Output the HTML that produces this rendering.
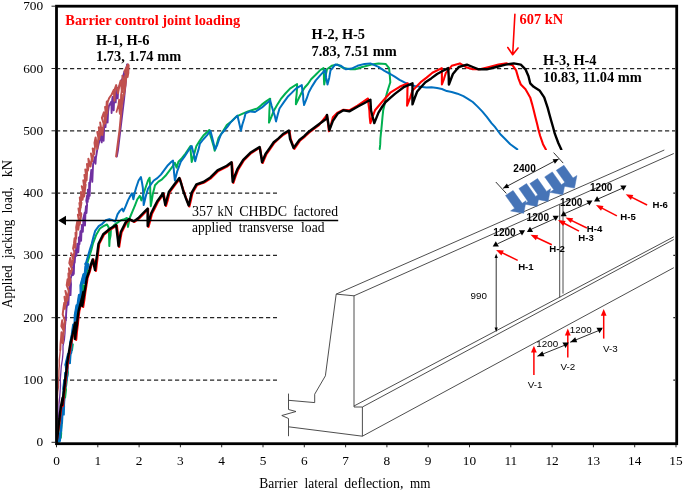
<!DOCTYPE html>
<html><head><meta charset="utf-8"><title>Barrier control joint loading</title>
<style>
html,body{margin:0;padding:0;background:#fff}
svg{display:block}
text{font-family:"Liberation Serif",serif;fill:#000}
.tk{font-size:13.33px}
.b{font-weight:bold;font-size:14.4px}
.r{font-size:14.2px}
.axx{font-size:14.4px}
.ay{font-size:13.9px}
.ax{font-size:13.33px}
.s{font-family:"Liberation Sans",sans-serif;font-size:9.8px}
.sb{font-family:"Liberation Sans",sans-serif;font-size:10.1px;font-weight:bold}
.sh{font-family:"Liberation Sans",sans-serif;font-size:9.6px;font-weight:bold}
</style></head><body>
<svg width="685" height="491" viewBox="0 0 685 491">
<rect width="685" height="491" fill="#fff"/>
<line x1="58" y1="380.0" x2="675" y2="380.0" stroke="#262626" stroke-width="1.25" stroke-dasharray="4.2 2.8" stroke-dashoffset="2"/>
<line x1="58" y1="317.7" x2="675" y2="317.7" stroke="#262626" stroke-width="1.25" stroke-dasharray="4.2 2.8" stroke-dashoffset="2"/>
<line x1="58" y1="255.4" x2="675" y2="255.4" stroke="#262626" stroke-width="1.25" stroke-dasharray="4.2 2.8" stroke-dashoffset="2"/>
<line x1="58" y1="193.1" x2="675" y2="193.1" stroke="#262626" stroke-width="1.25" stroke-dasharray="4.2 2.8" stroke-dashoffset="2"/>
<line x1="58" y1="130.8" x2="675" y2="130.8" stroke="#262626" stroke-width="1.25" stroke-dasharray="4.2 2.8" stroke-dashoffset="2"/>
<line x1="58" y1="68.5" x2="675" y2="68.5" stroke="#262626" stroke-width="1.25" stroke-dasharray="4.2 2.8" stroke-dashoffset="2"/>
<defs><clipPath id="pc"><rect x="57.5" y="7" width="618" height="435.6"/></clipPath></defs>
<g clip-path="url(#pc)">
<polyline points="57.2,442.0 57.6,435.7 58.2,429.5 58.2,423.2 58.6,416.9 59.0,410.6 59.0,404.4 59.6,398.1 60.1,391.8 60.5,385.5 60.3,379.3 60.8,373.0 61.3,366.2 62.4,359.5 63.0,352.8 63.0,346.0 64.4,339.5 65.0,333.0 65.3,326.5 65.9,320.0" fill="none" stroke="#7030A0" stroke-width="1.3" stroke-linejoin="round" stroke-linecap="round"/>
<polyline points="65.9,320.0 66.1,314.2 66.5,308.4 67.5,302.6 67.6,296.8 68.4,304.7 68.8,295.9 68.9,290.9 69.8,285.1 70.5,295.1 71.0,284.2 70.5,279.2 72.0,273.4 72.6,267.3 72.9,275.1 73.4,265.0 73.4,261.1 73.8,273.9 74.2,262.0 74.3,255.0 74.7,262.7 75.3,254.1 76.1,249.3 76.4,255.9 76.9,249.6 77.3,243.7 78.3,252.4 78.9,243.9 78.8,237.5 79.5,244.3 79.9,237.8 80.4,231.2 81.1,240.8 81.5,231.3 81.9,225.0 82.8,231.9 83.3,223.2 83.2,218.7 84.8,212.5 85.0,225.5 85.5,211.3 86.0,206.2 86.5,213.0 87.1,204.4 86.3,200.7 87.1,195.3 87.7,201.9 88.1,194.8 87.8,189.8 88.6,198.8 89.1,190.7 89.2,182.8 89.7,195.7 90.1,180.8 90.7,175.8 91.3,169.9 92.3,181.8 92.9,168.1 93.1,164.0 95.1,157.0 95.5,163.8 95.9,157.9 97.2,150.0 99.0,142.5 101.1,135.0 101.7,142.4 102.2,132.7 102.8,128.0 103.6,140.8 104.2,126.5 105.3,121.0 105.5,127.1 106.0,120.1 106.6,113.5 107.6,122.5 108.1,111.5 108.9,106.0 111.4,101.5 111.6,113.0 112.2,99.5 112.6,97.0 113.7,110.3 114.2,97.9 114.6,92.5 115.7,102.4 116.2,91.1 117.4,88.0 117.7,98.4 118.2,88.7 121.2,82.0 123.0,76.8 124.4,71.5 125.2,84.7 125.8,70.5 127.2,64.5 127.0,64.5 126.0,80.0 124.0,100.0 121.0,125.0 118.0,150.0 116.8,156.5" fill="none" stroke="#7030A0" stroke-width="1.9" stroke-linejoin="round" stroke-linecap="round"/>
<polyline points="116.5,112.0 118.7,104.0 119.8,113.8 120.6,105.8 118.5,104.0 119.1,99.5 119.9,110.2 120.9,98.8 121.0,95.0 121.7,103.3 122.0,94.7 121.0,95.0 121.9,90.0 123.9,85.0 124.2,94.8 124.9,84.4 123.5,85.0 123.8,80.5 124.2,86.8 125.2,82.1 125.2,76.0 125.5,76.0 126.6,71.0 127.7,77.2 128.5,72.9 128.1,66.0 128.4,73.2 128.8,65.2 127.5,66.0" fill="none" stroke="#C0504D" stroke-width="1.7" stroke-linejoin="round" stroke-linecap="round"/>
<polyline points="56.0,442.0 56.4,436.4 56.4,430.8 56.8,425.1 57.0,419.5 56.7,413.9 56.9,408.2 57.7,402.6 57.4,397.0 57.7,391.8 58.5,386.6 58.4,381.3 58.9,376.1 58.9,370.9 59.3,365.7 59.2,360.4 59.8,355.2 60.3,350.0" fill="none" stroke="#C0504D" stroke-width="1.4" stroke-linejoin="round" stroke-linecap="round"/>
<polyline points="60.3,350.0 60.5,344.1 61.1,338.1 61.5,332.2 62.7,343.2 63.8,330.7 61.4,326.2 62.2,320.3 63.7,332.3 65.0,321.0 62.7,314.4 63.4,308.6 64.3,302.7 64.8,308.8 65.4,303.6 64.5,296.8 65.8,304.2 66.8,295.7 65.4,290.9 67.3,300.6 68.8,290.8 66.7,285.1 67.6,279.2 69.0,285.6 70.4,280.1 68.4,273.4 68.9,284.1 69.5,273.8 68.9,268.3 70.6,273.8 72.1,269.2 69.3,263.1 70.3,258.0 72.0,265.4 73.4,258.6 71.2,253.2 73.1,258.6 74.4,251.9 73.1,248.5 74.0,243.7 74.6,238.2 75.3,248.0 75.7,236.4 75.5,232.8 76.0,239.0 76.5,233.3 76.2,227.3 77.4,221.0 78.3,229.7 79.3,220.8 77.9,214.8 79.7,224.7 81.3,214.0 78.5,208.5 79.5,215.4 80.2,209.4 79.4,203.0 80.5,208.1 81.4,202.5 79.8,197.5 80.7,207.6 81.2,197.2 81.0,192.0 82.5,199.8 83.8,192.1 81.8,186.2 84.1,196.6 85.6,184.6 83.3,180.4 84.3,188.0 85.1,179.0 84.4,174.9 85.5,182.3 86.3,175.1 85.3,169.5 86.6,180.3 87.3,167.7 87.0,164.0 87.9,170.5 88.8,163.9 88.4,158.8 90.5,166.5 91.9,157.8 91.0,153.6 92.2,161.3 93.4,154.2 92.7,148.4 94.0,154.4 95.0,146.6 94.5,142.9 95.6,137.5 97.3,148.9 98.4,137.8 97.3,132.0 99.1,139.3 100.4,130.4 98.8,127.3 100.0,135.7 100.9,128.0 100.2,122.6 102.3,135.1 103.7,123.6 101.9,117.9 103.9,112.4 105.3,123.4 106.7,112.3 105.1,107.0 105.9,114.7 106.6,104.7 106.8,101.5 107.2,113.0 107.6,102.2 109.2,98.0 111.7,94.5 113.8,89.8 114.5,100.8 115.0,88.3 116.2,85.1 118.0,93.4 119.5,84.7 120.7,80.4 122.0,92.3 122.9,80.6 122.4,75.8 124.2,85.0 125.6,73.8 124.5,71.1 128.0,64.5 127.8,64.5 126.5,75.0 125.5,85.0 122.0,104.0 119.6,129.6 116.1,156.5" fill="none" stroke="#C0504D" stroke-width="2.0" stroke-linejoin="round" stroke-linecap="round"/>
<polyline points="58.2,443.0 59.6,433.8 60.8,437.9 61.2,433.2 60.2,424.6 60.6,433.0 61.6,424.6 61.1,415.4 62.1,406.2 63.0,397.0 63.8,405.4 64.3,396.6 62.8,397.0 64.1,388.9 65.1,397.6 66.0,389.6 64.9,380.9 66.1,386.2 66.6,382.2 66.1,372.9 67.1,377.6 67.9,372.4 66.1,364.8 67.3,369.0 67.9,365.4 66.6,364.8 69.0,354.2 69.5,362.8 70.1,355.0 71.4,343.7 72.0,350.4 72.8,344.3 71.6,343.7 72.9,334.3 74.8,325.0 75.9,331.0 76.9,325.5 76.5,315.6 76.9,324.1 77.6,315.6 76.6,315.6 78.4,305.4 78.6,310.4 79.3,306.8 80.6,295.2 80.9,302.7 81.5,296.7 82.8,285.0 83.5,293.2 84.2,285.8 82.4,285.0 85.2,274.5 86.1,280.9 86.9,274.6 87.3,264.0 87.0,264.0 91.2,250.4 92.9,243.7 96.4,234.4 99.9,228.5 103.4,226.2 107.0,224.5 108.6,227.3 109.0,234.0 109.2,240.2 109.3,246.1 109.6,240.6 110.6,235.3 110.9,229.7 114.0,225.0 117.5,222.7 121.0,220.3 124.5,219.1 126.9,218.0 128.0,226.9 129.7,218.0 132.7,210.9 135.1,205.1 137.4,199.2 139.8,195.7 141.4,200.4 143.3,194.5 145.6,187.5 148.0,180.5 149.6,177.7 150.1,184.6 150.3,192.2 150.5,199.0 150.8,206.2 151.8,200.4 152.7,194.5 155.0,185.2 158.5,181.6 162.0,179.3 165.5,175.8 169.1,171.1 172.6,166.4 174.9,162.9 176.6,167.6 178.4,161.7 181.9,158.2 185.5,153.5 190.5,146.0 190.7,151.1 191.2,157.0 191.7,162.0 193.4,156.4 195.0,151.0 196.4,146.0 200.0,140.4 203.4,135.5 209.3,130.0 210.4,135.5 211.9,140.1 213.6,145.9 214.7,150.7 216.6,144.7 218.6,137.8 221.4,133.7 223.9,129.7 226.8,125.0 231.6,121.3 236.2,116.7 242.2,113.9 247.9,111.4 257.3,108.5 261.5,104.9 265.7,101.6 270.2,98.7 269.8,104.8 269.4,110.8 269.2,116.5 269.0,122.6 271.5,116.7 273.7,110.9 277.1,105.0 280.7,99.2 285.4,93.5 290.0,88.6 297.1,84.0 297.0,88.6 296.6,94.5 296.0,99.5 295.9,104.3 298.8,98.3 301.8,92.2 304.7,87.5 307.9,84.0 311.1,79.3 315.7,74.8 320.5,69.9 323.5,68.1 323.9,74.0 323.9,78.9 324.2,84.5 325.1,79.7 325.9,74.6 327.0,69.3 331.7,65.8 337.6,64.6 343.4,68.1 350.4,69.3 355.1,69.3 362.2,67.0 371.5,64.6 378.5,63.4 385.6,63.9 389.1,68.1 389.8,75.5 390.3,82.2 388.3,88.5 386.7,93.9 385.3,99.2 384.4,105.2 383.2,110.3 382.5,116.9 382.0,122.6 381.4,129.0 380.9,133.7 380.4,138.7 380.2,144.4 379.7,149.0" fill="none" stroke="#00B050" stroke-width="2.0" stroke-linejoin="round" stroke-linecap="round"/>
<polyline points="58.7,443.0 59.3,433.8 60.0,441.0 60.4,435.2 60.9,424.6 61.3,431.1 61.6,424.7 61.6,415.4 62.0,423.4 62.5,414.5 63.0,406.2 63.8,414.6 64.1,406.2 63.4,397.0 64.0,405.8 64.4,398.5 63.4,397.0 63.6,388.9 64.6,380.9 65.2,386.6 65.7,380.0 65.6,372.9 66.0,380.8 67.0,374.5 66.1,364.8 67.0,371.7 67.4,365.2 65.8,364.8 68.4,354.2 69.5,362.9 70.1,354.3 70.4,343.7 70.9,352.7 71.3,343.0 70.4,343.7 72.2,334.3 73.5,325.0 74.5,331.7 74.9,325.8 75.2,315.6 75.5,320.5 76.1,317.4 75.1,315.6 76.9,305.4 77.2,310.9 77.6,306.8 79.3,295.2 80.2,302.6 81.1,297.1 80.9,285.0 81.0,285.0 83.8,274.5 84.5,282.9 85.1,274.2 86.1,264.0 87.1,268.3 87.9,264.4 85.7,264.0 89.8,249.8 91.7,243.7 93.4,237.0 95.2,230.9 98.7,226.2 102.3,223.8 105.8,220.3 109.3,219.1 112.8,220.3 115.2,221.5 117.5,214.4 119.8,210.9 122.2,208.6 123.4,211.4 125.7,206.2 128.0,200.4 130.4,195.7 132.0,193.4 133.4,199.2 134.6,193.3 136.2,187.5 138.6,180.5 140.9,177.0 142.0,182.5 142.8,187.5 143.2,193.1 143.4,199.0 143.7,205.1 145.6,196.9 148.0,188.7 150.3,185.2 153.8,180.5 157.3,178.1 160.9,174.6 164.4,169.9 167.9,165.2 171.4,161.7 173.0,160.5 173.7,168.7 174.2,174.2 174.9,180.5 177.3,171.1 178.9,166.8 180.8,161.7 184.3,157.0 187.5,152.0 191.7,146.0 193.0,151.3 194.2,155.9 195.2,161.2 196.7,155.5 198.4,149.9 199.9,143.7 203.6,139.0 206.9,135.3 210.4,130.8 212.0,136.7 213.5,142.9 215.1,149.5 217.3,144.8 219.1,139.2 221.0,134.3 224.3,130.5 227.4,126.8 230.4,122.6 237.4,115.6 238.6,120.6 239.8,125.7 240.9,130.8 242.3,124.8 244.2,118.7 245.6,113.2 250.3,111.4 255.0,112.0 262.0,107.4 265.9,104.0 270.2,100.4 271.6,105.7 273.1,110.8 274.8,115.9 276.0,121.4 277.7,114.7 279.5,108.5 283.7,102.4 287.7,96.8 291.7,92.9 295.9,88.6 301.8,85.1 302.3,90.1 303.1,94.7 303.3,99.8 304.1,105.0 306.6,98.7 308.8,92.2 312.2,86.1 315.8,80.4 320.4,75.1 325.2,69.9 326.1,77.4 327.5,84.5 329.2,77.9 330.5,70.4 335.2,64.6 341.0,65.8 345.8,69.3 351.6,68.6 357.5,65.8 364.5,63.9 370.4,63.4 378.5,66.9 384.5,70.9 390.3,74.0 394.7,76.7 399.6,79.8 404.5,82.4 409.0,84.5 414.8,86.0 420.7,86.8 426.2,87.5 431.5,87.3 437.1,88.0 441.9,89.0 446.8,91.1 451.7,92.0 457.5,93.7 463.4,96.2 467.9,98.8 472.8,102.0 477.6,106.6 482.2,111.4 486.8,116.9 491.5,123.1 494.9,126.9 497.6,130.5 500.9,134.8 505.4,139.2 510.3,144.2 517.3,149.4" fill="none" stroke="#0070C0" stroke-width="2.0" stroke-linejoin="round" stroke-linecap="round"/>
<polyline points="63.6,388.9 64.6,380.9 65.2,386.6 65.7,380.0 65.6,372.9 66.0,380.8 67.0,374.5 66.1,364.8 67.0,371.7 67.4,365.2 65.8,364.8 68.4,354.2 69.5,362.9 70.1,354.3 70.4,343.7 70.9,352.7 71.3,343.0 70.4,343.7 72.2,334.3 73.5,325.0 74.5,331.7 74.9,325.8 75.2,315.6 75.5,320.5 76.1,317.4 75.1,315.6 76.9,305.4 77.2,310.9 77.6,306.8 79.3,295.2 80.2,302.6 81.1,297.1 80.9,285.0 81.0,285.0 83.8,274.5 84.5,282.9 85.1,274.2 86.1,264.0 87.1,268.3 87.9,264.4 85.7,264.0" fill="none" stroke="#0070C0" stroke-width="2.9" stroke-linejoin="round" stroke-linecap="round"/>
<polyline points="56.8,442.0 57.9,433.3 59.2,425.0 60.1,418.4 60.8,412.2 61.6,406.0 63.2,398.0 63.0,406.0 63.6,399.0 64.4,392.0 65.3,385.0 66.0,377.7 66.9,371.2 67.8,364.0 68.8,357.0 70.1,350.8 71.2,343.7 72.8,336.6 74.5,329.3 75.9,322.6 76.2,331.2 76.2,340.0 76.9,332.5 77.7,325.7 78.5,318.2 79.4,310.9 81.0,304.5 82.6,298.0 84.1,292.0 83.5,299.3 83.2,307.0 84.4,299.7 85.3,292.6 86.5,285.1 87.6,278.0 89.7,271.9 91.4,265.7 93.5,259.4 96.0,271.0 96.7,265.0 97.5,258.4 98.2,252.3 99.3,243.7 104.0,234.8 111.0,229.0 116.9,225.5 117.8,232.4 118.4,240.0 119.2,247.0 120.3,239.7 121.6,232.5 126.3,223.0 129.8,219.5 134.5,222.0 139.2,218.5 145.0,212.5 148.2,209.0 148.1,215.1 148.5,221.1 148.5,227.0 150.4,220.2 152.0,213.7 155.0,207.9 157.9,202.0 163.8,193.8 164.9,199.9 166.0,206.0 167.9,199.6 169.6,192.5 175.5,184.5 180.0,178.5 181.7,184.5 183.5,190.3 186.3,198.5 189.4,206.5 191.0,200.1 192.5,193.0 197.2,185.0 204.2,182.5 211.2,178.0 218.3,171.0 227.6,166.2 232.0,162.7 232.6,169.3 232.9,176.4 233.4,183.0 235.6,176.3 238.2,169.7 244.0,160.3 251.0,153.3 260.0,147.5 261.2,155.0 262.7,163.0 266.3,154.5 270.2,148.8 274.5,142.7 279.0,138.4 283.8,134.5 289.5,131.0 290.8,139.2 294.4,149.0 300.2,140.5 304.9,136.6 309.6,132.2 319.0,125.2 322.9,120.1 327.0,115.0 328.0,123.4 328.9,131.3 331.0,124.6 332.9,117.3 337.6,112.6 343.4,109.8 349.3,110.3 357.5,105.6 362.7,102.0 368.0,98.5 368.6,104.9 369.4,110.6 369.7,116.8 370.4,123.1 372.6,116.7 375.0,110.3 382.0,102.0 386.2,97.2 390.3,92.7 399.6,86.8 407.8,83.3 407.4,90.7 407.3,98.2 407.1,105.6 410.0,98.1 412.5,90.4 420.7,82.2 426.6,77.6 432.4,72.8 441.8,68.1 441.9,76.0 441.9,84.5 444.0,78.8 445.9,72.8 451.7,65.8 459.9,63.4 466.9,67.6 472.8,69.3 479.8,69.3 489.2,67.0 498.5,64.6 506.7,63.4 512.6,65.3 516.1,70.4 518.5,78.6 520.8,84.5 525.5,89.2 530.2,97.4 532.1,104.1 533.7,110.3 535.4,117.2 537.2,124.3 538.6,130.2 540.2,136.0 543.0,144.2 545.9,149.4" fill="none" stroke="#FF0000" stroke-width="2.1" stroke-linejoin="round" stroke-linecap="round"/>
<polyline points="56.6,442.0 57.8,433.7 58.7,425.0 59.5,418.5 60.1,412.4 61.0,406.0 62.5,398.0 62.2,405.0 63.0,398.5 63.8,391.9 64.6,385.0 65.3,378.2 66.3,370.9 67.0,364.0 68.1,357.4 69.2,350.5 70.4,343.7 72.1,336.5 73.6,329.8 75.1,322.6 75.2,330.7 75.1,339.0 75.8,332.2 77.0,324.9 77.6,317.7 78.6,310.9 80.2,304.5 81.9,298.4 83.3,292.0 82.6,299.1 82.2,306.0 83.3,299.3 84.6,292.0 85.7,285.1 86.8,278.0 88.9,272.1 90.6,265.5 92.7,259.4 95.0,270.0 96.2,261.0 97.4,252.3 98.5,243.7 103.2,234.3 110.3,228.5 116.1,225.0 116.9,231.7 117.8,239.0 118.5,246.0 119.5,239.1 120.8,232.0 125.5,222.6 129.0,219.0 133.7,221.4 138.4,218.0 144.2,212.0 147.7,208.5 147.6,217.0 147.7,226.0 149.4,219.3 151.2,213.2 154.0,207.6 157.1,201.5 163.0,193.3 165.3,205.0 167.1,198.2 168.8,192.0 174.7,184.0 179.3,178.0 181.2,183.6 182.9,189.8 185.7,197.9 188.7,205.5 190.2,198.9 191.7,192.6 196.4,184.4 203.4,182.0 210.4,177.4 217.5,170.4 226.8,165.7 231.5,162.2 231.9,168.7 232.2,175.7 232.7,182.0 234.9,175.5 237.4,169.2 243.2,159.8 250.3,152.8 259.6,147.0 260.9,154.5 262.0,162.2 265.5,154.0 269.8,147.9 273.7,142.2 278.5,138.4 283.0,134.0 288.9,130.5 290.0,138.7 293.6,148.0 299.4,140.0 304.2,136.1 308.8,131.7 318.2,124.7 326.4,118.8 327.0,115.0 328.2,122.8 329.4,130.2 332.9,120.8 337.6,113.8 343.4,110.3 349.3,111.4 357.5,106.7 364.1,103.2 370.4,99.7 371.0,110.3 372.6,116.8 374.3,123.1 378.5,112.6 382.0,107.0 385.6,102.0 390.3,97.8 394.9,93.9 404.3,86.8 412.5,83.3 412.5,90.5 412.4,97.0 412.5,104.4 414.7,98.0 417.2,91.5 421.3,86.7 425.4,82.2 431.2,78.4 437.1,74.0 442.6,71.0 448.2,68.1 448.7,76.4 448.9,84.5 452.9,74.0 458.7,67.0 466.9,64.6 472.8,67.0 478.6,69.3 486.8,69.3 496.2,67.0 505.6,64.6 513.8,63.4 520.8,64.6 525.5,69.3 528.5,76.3 530.2,83.3 533.7,86.8 539.5,90.4 544.2,97.4 547.7,107.9 549.4,114.3 551.2,120.8 553.0,127.0 554.8,133.7 558.3,143.0 561.3,149.4" fill="none" stroke="#000" stroke-width="2.4" stroke-linejoin="round" stroke-linecap="round"/>
</g>
<g id="inset">
<rect x="277" y="150" width="396.3" height="292" fill="#fff"/>
<polyline stroke="#3a3a3a" stroke-width="0.9" fill="none" points="336.2,294.1 325.4,375.8 314.7,394.2 314.7,402.6 288.5,400.3"/>
<polyline stroke="#3a3a3a" stroke-width="0.9" fill="none" points="288.5,393.6 288.5,409.5 296,411.5 281.8,415.5 288.5,418.5 288.5,436.2"/>
<polyline stroke="#3a3a3a" stroke-width="0.9" fill="none" points="288.5,426.8 362.4,436.2 362.4,407 354,407 354,295.8 336.2,294.1"/>
<line stroke="#3a3a3a" stroke-width="0.9" fill="none" x1="336.2" y1="294.1" x2="664.3" y2="150"/>
<line stroke="#3a3a3a" stroke-width="0.9" fill="none" x1="354" y1="295.8" x2="673.8" y2="153.5"/>
<line stroke="#3a3a3a" stroke-width="0.9" fill="none" x1="354" y1="406" x2="673.8" y2="236.8"/>
<line stroke="#3a3a3a" stroke-width="0.9" fill="none" x1="362.4" y1="407" x2="673.8" y2="239.5"/>
<line stroke="#3a3a3a" stroke-width="0.9" fill="none" x1="362.4" y1="436.2" x2="673.8" y2="267.7"/>
<line stroke="#3a3a3a" stroke-width="0.9" fill="none" x1="559.7" y1="204.5" x2="559.7" y2="297.5"/>
<line stroke="#3a3a3a" stroke-width="0.9" fill="none" x1="563" y1="203" x2="563" y2="293.6"/>
<line stroke="#1a1a1a" stroke-width="0.9" x1="495.8" y1="182" x2="506.3" y2="193.4"/>
<line stroke="#1a1a1a" stroke-width="0.9" x1="553.6" y1="152.6" x2="563.2" y2="163.1"/>
<line stroke="#1a1a1a" stroke-width="0.9" x1="503.1" y1="188.3" x2="558.7" y2="158.9"/>
<polygon points="558.7,158.9 554.9,163.7 552.6,159.3" fill="#000"/>
<polygon points="503.1,188.3 506.9,183.5 509.2,187.9" fill="#000"/>
<text class="sb" x="524.6" y="171.6" text-anchor="middle">2400</text>
<polygon points="523.7,213.3 526.1,200.7 522.2,203.3 513.1,190.5 505.5,195.5 514.6,208.3 510.6,210.9" fill="#4674B7" stroke="#4674B7" stroke-width="0.5" stroke-linejoin="miter"/>
<polygon points="537.1,206.4 539.5,193.8 535.6,196.4 526.5,183.6 518.9,188.6 528.0,201.4 524.0,204.0" fill="#4674B7" stroke="#4674B7" stroke-width="0.5" stroke-linejoin="miter"/>
<polygon points="548.1,201.4 550.5,188.8 546.6,191.4 537.5,178.6 529.9,183.6 539.0,196.4 535.0,199.0" fill="#4674B7" stroke="#4674B7" stroke-width="0.5" stroke-linejoin="miter"/>
<polygon points="562.9,194.7 565.3,182.1 561.4,184.7 552.3,171.9 544.7,176.9 553.8,189.7 549.8,192.3" fill="#4674B7" stroke="#4674B7" stroke-width="0.5" stroke-linejoin="miter"/>
<polygon points="574.5,188.1 576.9,175.5 573.0,178.1 563.9,165.3 556.3,170.3 565.4,183.1 561.4,185.7" fill="#4674B7" stroke="#4674B7" stroke-width="0.5" stroke-linejoin="miter"/>
<line stroke="#1a1a1a" stroke-width="0.9" x1="497.5" y1="243.8" x2="522" y2="232.4"/>
<line stroke="#1a1a1a" stroke-width="0.9" x1="530" y1="229.8" x2="555.3" y2="218.4"/>
<line stroke="#1a1a1a" stroke-width="0.9" x1="563.7" y1="214" x2="589.5" y2="202.6"/>
<line stroke="#1a1a1a" stroke-width="0.9" x1="597.1" y1="199.4" x2="623.1" y2="187.9"/>
<polygon points="492.7,246.4 498.9,246.4 495.8,241.2" fill="#000"/>
<polygon points="518.9,230.3 525.1,230.3 522.0,235.5" fill="#000"/>
<polygon points="526.9,232.0 533.1,232.0 530.0,226.8" fill="#000"/>
<polygon points="552.6,215.8 558.8,215.8 555.7,221.0" fill="#000"/>
<polygon points="560.6,216.3 566.8,216.3 563.7,211.1" fill="#000"/>
<polygon points="586.3,200.4 592.5,200.4 589.4,205.6" fill="#000"/>
<polygon points="594.0,201.5 600.2,201.5 597.1,196.3" fill="#000"/>
<polygon points="620.3,185.6 626.5,185.6 623.4,190.8" fill="#000"/>
<text class="sb" x="504.5" y="235.70000000000002" text-anchor="middle">1200</text>
<text class="sb" x="537.8" y="220.5" text-anchor="middle">1200</text>
<text class="sb" x="571.2" y="205.8" text-anchor="middle">1200</text>
<text class="sb" x="601.2" y="190.8" text-anchor="middle">1200</text>
<line x1="517.7" y1="260.4" x2="498.8" y2="251.2" stroke="#FF0000" stroke-width="1.5"/>
<polygon points="496.1,249.9 503.8,250.6 501.4,255.5" fill="#FF0000"/>
<line x1="551.8" y1="244.7" x2="533.2" y2="236.0" stroke="#FF0000" stroke-width="1.5"/>
<polygon points="530.5,234.7 538.2,235.3 535.9,240.2" fill="#FF0000"/>
<line x1="579" y1="231.2" x2="560.7" y2="221.5" stroke="#FF0000" stroke-width="1.5"/>
<polygon points="558.0,220.1 565.6,221.1 563.1,225.9" fill="#FF0000"/>
<line x1="586.9" y1="228" x2="568.2" y2="218.8" stroke="#FF0000" stroke-width="1.5"/>
<polygon points="565.5,217.5 573.2,218.2 570.8,223.1" fill="#FF0000"/>
<line x1="616.9" y1="215.9" x2="598.6" y2="206.4" stroke="#FF0000" stroke-width="1.5"/>
<polygon points="595.9,205.0 603.5,205.9 601.0,210.7" fill="#FF0000"/>
<line x1="647.1" y1="205" x2="628.4" y2="195.6" stroke="#FF0000" stroke-width="1.5"/>
<polygon points="625.7,194.2 633.3,195.0 630.9,199.9" fill="#FF0000"/>
<text class="sh" x="525.9" y="269.90000000000003" text-anchor="middle">H-1</text>
<text class="sh" x="557.1" y="252.4" text-anchor="middle">H-2</text>
<text class="sh" x="586" y="241.20000000000002" text-anchor="middle">H-3</text>
<text class="sh" x="594.5" y="231.8" text-anchor="middle">H-4</text>
<text class="sh" x="628" y="220.3" text-anchor="middle">H-5</text>
<text class="sh" x="660.2" y="207.5" text-anchor="middle">H-6</text>
<line stroke="#1a1a1a" stroke-width="0.9" x1="496.2" y1="256" x2="496.2" y2="330"/>
<polygon points="496.2,253.6 497.8,258.1 494.6,258.1" fill="#000"/>
<polygon points="496.2,332.0 494.6,327.5 497.8,327.5" fill="#000"/>
<text class="s" x="478.8" y="299" text-anchor="middle">990</text>
<line x1="533.9" y1="374.9" x2="533.9" y2="348.7" stroke="#FF0000" stroke-width="1.5"/>
<polygon points="533.9,345.7 536.8,352.5 531.0,352.5" fill="#FF0000"/>
<text class="s" x="535" y="387.5" text-anchor="middle">V-1</text>
<line x1="567.8" y1="357.4" x2="567.8" y2="331.6" stroke="#FF0000" stroke-width="1.5"/>
<polygon points="567.8,328.6 570.7,335.4 564.9,335.4" fill="#FF0000"/>
<text class="s" x="567.8" y="369.9" text-anchor="middle">V-2</text>
<line x1="603.7" y1="338.6" x2="603.7" y2="311.9" stroke="#FF0000" stroke-width="1.5"/>
<polygon points="603.7,308.9 606.6,315.7 600.8,315.7" fill="#FF0000"/>
<text class="s" x="610.4" y="351.9" text-anchor="middle">V-3</text>
<line stroke="#1a1a1a" stroke-width="0.9" x1="537.4" y1="356.2" x2="567.8" y2="344"/>
<polygon points="562.4,342.5 568.8,342.5 565.6,347.9" fill="#000"/>
<polygon points="537.4,356.2 542.4,351.3 544.4,356.3" fill="#000"/>
<text class="s" x="547.2" y="347.2" text-anchor="middle">1200</text>
<line stroke="#1a1a1a" stroke-width="0.9" x1="570.2" y1="342.2" x2="601.8" y2="329.3"/>
<polygon points="596.4,327.8 602.8,327.8 599.6,333.2" fill="#000"/>
<polygon points="570.2,342.2 575.2,337.2 577.2,342.2" fill="#000"/>
<text class="s" x="580.7" y="332.5" text-anchor="middle">1200</text>
</g>
<rect x="56.5" y="6.2" width="620.2" height="437.5" fill="none" stroke="#000" stroke-width="2.8"/>
<line x1="51.5" y1="442.3" x2="55.2" y2="442.3" stroke="#262626" stroke-width="1"/>
<text x="43.2" y="446.3" text-anchor="end" class="tk">0</text>
<line x1="51.5" y1="380.0" x2="55.2" y2="380.0" stroke="#262626" stroke-width="1"/>
<text x="43.2" y="384.0" text-anchor="end" class="tk">100</text>
<line x1="51.5" y1="317.7" x2="55.2" y2="317.7" stroke="#262626" stroke-width="1"/>
<text x="43.2" y="321.7" text-anchor="end" class="tk">200</text>
<line x1="51.5" y1="255.4" x2="55.2" y2="255.4" stroke="#262626" stroke-width="1"/>
<text x="43.2" y="259.4" text-anchor="end" class="tk">300</text>
<line x1="51.5" y1="193.1" x2="55.2" y2="193.1" stroke="#262626" stroke-width="1"/>
<text x="43.2" y="197.1" text-anchor="end" class="tk">400</text>
<line x1="51.5" y1="130.8" x2="55.2" y2="130.8" stroke="#262626" stroke-width="1"/>
<text x="43.2" y="134.8" text-anchor="end" class="tk">500</text>
<line x1="51.5" y1="68.5" x2="55.2" y2="68.5" stroke="#262626" stroke-width="1"/>
<text x="43.2" y="72.5" text-anchor="end" class="tk">600</text>
<line x1="51.5" y1="6.2" x2="55.2" y2="6.2" stroke="#262626" stroke-width="1"/>
<text x="43.2" y="10.2" text-anchor="end" class="tk">700</text>
<line x1="56.5" y1="445" x2="56.5" y2="447.3" stroke="#262626" stroke-width="1"/>
<text x="56.5" y="465.2" text-anchor="middle" class="tk">0</text>
<line x1="97.8" y1="445" x2="97.8" y2="447.3" stroke="#262626" stroke-width="1"/>
<text x="97.8" y="465.2" text-anchor="middle" class="tk">1</text>
<line x1="139.1" y1="445" x2="139.1" y2="447.3" stroke="#262626" stroke-width="1"/>
<text x="139.1" y="465.2" text-anchor="middle" class="tk">2</text>
<line x1="180.4" y1="445" x2="180.4" y2="447.3" stroke="#262626" stroke-width="1"/>
<text x="180.4" y="465.2" text-anchor="middle" class="tk">3</text>
<line x1="221.7" y1="445" x2="221.7" y2="447.3" stroke="#262626" stroke-width="1"/>
<text x="221.7" y="465.2" text-anchor="middle" class="tk">4</text>
<line x1="263.0" y1="445" x2="263.0" y2="447.3" stroke="#262626" stroke-width="1"/>
<text x="263.0" y="465.2" text-anchor="middle" class="tk">5</text>
<line x1="304.3" y1="445" x2="304.3" y2="447.3" stroke="#262626" stroke-width="1"/>
<text x="304.3" y="465.2" text-anchor="middle" class="tk">6</text>
<line x1="345.6" y1="445" x2="345.6" y2="447.3" stroke="#262626" stroke-width="1"/>
<text x="345.6" y="465.2" text-anchor="middle" class="tk">7</text>
<line x1="386.9" y1="445" x2="386.9" y2="447.3" stroke="#262626" stroke-width="1"/>
<text x="386.9" y="465.2" text-anchor="middle" class="tk">8</text>
<line x1="428.2" y1="445" x2="428.2" y2="447.3" stroke="#262626" stroke-width="1"/>
<text x="428.2" y="465.2" text-anchor="middle" class="tk">9</text>
<line x1="469.5" y1="445" x2="469.5" y2="447.3" stroke="#262626" stroke-width="1"/>
<text x="469.5" y="465.2" text-anchor="middle" class="tk">10</text>
<line x1="510.8" y1="445" x2="510.8" y2="447.3" stroke="#262626" stroke-width="1"/>
<text x="510.8" y="465.2" text-anchor="middle" class="tk">11</text>
<line x1="552.1" y1="445" x2="552.1" y2="447.3" stroke="#262626" stroke-width="1"/>
<text x="552.1" y="465.2" text-anchor="middle" class="tk">12</text>
<line x1="593.4" y1="445" x2="593.4" y2="447.3" stroke="#262626" stroke-width="1"/>
<text x="593.4" y="465.2" text-anchor="middle" class="tk">13</text>
<line x1="634.7" y1="445" x2="634.7" y2="447.3" stroke="#262626" stroke-width="1"/>
<text x="634.7" y="465.2" text-anchor="middle" class="tk">14</text>
<line x1="676.0" y1="445" x2="676.0" y2="447.3" stroke="#262626" stroke-width="1"/>
<text x="676.0" y="465.2" text-anchor="middle" class="tk">15</text>
<line x1="63" y1="220.5" x2="338.2" y2="220.5" stroke="#000" stroke-width="1.5"/>
<polygon points="58.2,220.5 66,215.8 66,225.2" fill="#000"/>
<text class="r" x="192" y="215.6" textLength="21" lengthAdjust="spacingAndGlyphs">357</text>
<text class="r" x="217.6" y="215.6" textLength="15.4" lengthAdjust="spacingAndGlyphs">kN</text>
<text class="r" x="239.2" y="215.6" textLength="47.9" lengthAdjust="spacingAndGlyphs">CHBDC</text>
<text class="r" x="293.2" y="215.6" textLength="44.8" lengthAdjust="spacingAndGlyphs">factored</text>
<text class="r" x="192" y="232.4" textLength="39.7" lengthAdjust="spacingAndGlyphs">applied</text>
<text class="r" x="238.7" y="232.4" textLength="54.9" lengthAdjust="spacingAndGlyphs">transverse</text>
<text class="r" x="301.1" y="232.4" textLength="23.4" lengthAdjust="spacingAndGlyphs">load</text>
<text class="b" x="65.3" y="24.9" style="fill:#FF0000">Barrier control joint loading</text>
<text class="b" x="96" y="44.5">H-1, H-6</text>
<text class="b" x="96" y="61.4">1.73, 1.74 mm</text>
<text class="b" x="311.5" y="39">H-2, H-5</text>
<text class="b" x="311.5" y="55.9">7.83, 7.51 mm</text>
<text class="b" x="519.5" y="24.3" style="fill:#FF0000">607 kN</text>
<text class="b" x="543" y="65.2">H-3, H-4</text>
<text class="b" x="543" y="82">10.83, 11.04 mm</text>
<path d="M514.9,14.2 L512.7,54.2 M507.8,47.5 L512.7,54.7 L518,48" fill="none" stroke="#FF0000" stroke-width="1.6" stroke-linecap="round" stroke-linejoin="round"/>
<text class="axx" x="259.3" y="487.8" textLength="38.2" lengthAdjust="spacingAndGlyphs">Barrier</text>
<text class="axx" x="304.6" y="487.8" textLength="33.4" lengthAdjust="spacingAndGlyphs">lateral</text>
<text class="axx" x="344.3" y="487.8" textLength="59.1" lengthAdjust="spacingAndGlyphs">deflection,</text>
<text class="axx" x="410" y="487.8" textLength="20.4" lengthAdjust="spacingAndGlyphs">mm</text>
<text class="ay" transform="translate(12,308) rotate(-90)" textLength="42.6" lengthAdjust="spacingAndGlyphs">Applied</text>
<text class="ay" transform="translate(12,258.2) rotate(-90)" textLength="38.6" lengthAdjust="spacingAndGlyphs">jacking</text>
<text class="ay" transform="translate(12,213.3) rotate(-90)" textLength="26" lengthAdjust="spacingAndGlyphs">load,</text>
<text class="ay" transform="translate(12,177.3) rotate(-90)" textLength="17.4" lengthAdjust="spacingAndGlyphs">kN</text>
</svg>
</body></html>
